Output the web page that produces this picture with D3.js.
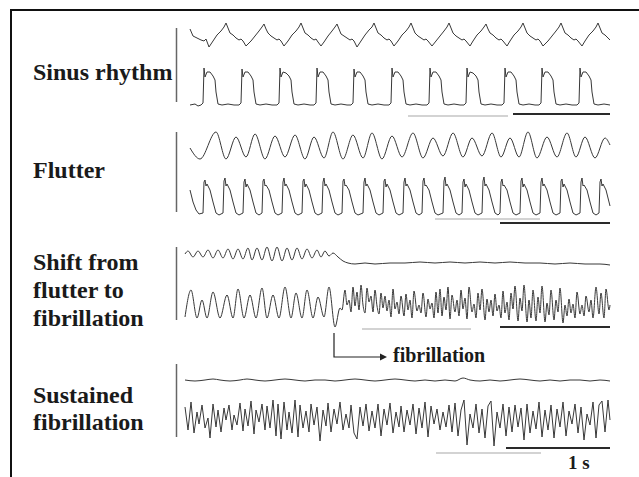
<!DOCTYPE html>
<html>
<head>
<meta charset="utf-8">
<script src="https://cdn.jsdelivr.net/npm/d3@7/dist/d3.min.js"></script>
<style>
  body { margin: 0; background: #fff; }
  text { font-family: "Liberation Serif", "Times New Roman", serif; font-weight: bold; fill: #1a1a1a; }
</style>
</head>
<body>
<svg id="fig" width="639" height="477"></svg>
<script>
// time in ms, value in arbitrary units (height above the trace floor)

// sinus rhythm, atrial signal
const sinusAtrial = [[50,19],[80,12],[120,10],[160,8],[190,7],[210,9],[240,1],
  [280,7],[320,13],[360,17],[390,21],[410,25],[430,20],[450,15],[480,13],[510,10],[540,8],[560,9],[580,7],[610,2],
  [660,7],[700,12],[740,17],[770,21],[790,24],[810,19],[830,15],[860,12],[890,10],[920,8],[940,9],[960,7],[990,2],
  [1030,7],[1070,13],[1110,17],[1140,21],[1160,25],[1180,20],[1200,15],[1230,13],[1260,10],[1290,8],[1310,9],[1330,6],[1360,2],
  [1390,6],[1430,12],[1470,17],[1500,21],[1520,24],[1540,19],[1560,14],[1590,12],[1620,10],[1650,8],[1670,9],[1690,7],[1720,1],
  [1760,7],[1800,13],[1840,18],[1870,21],[1890,25],[1910,20],[1930,15],[1960,13],[1990,10],[2020,8],[2040,9],[2060,7],[2090,2],
  [2130,7],[2170,13],[2210,17],[2240,21],[2260,25],[2280,20],[2300,15],[2330,12],[2360,10],[2390,8],[2410,9],[2430,7],[2470,2],
  [2510,7],[2550,12],[2590,17],[2620,21],[2640,25],[2660,20],[2680,15],[2710,12],[2740,10],[2770,8],[2790,9],[2810,7],[2850,2],
  [2880,7],[2920,13],[2960,17],[2990,21],[3010,24],[3030,19],[3050,15],[3080,13],[3110,10],[3140,8],[3160,9],[3180,7],[3220,2],
  [3250,7],[3290,13],[3330,17],[3360,21],[3380,25],[3400,20],[3420,15],[3450,12],[3480,10],[3510,8],[3530,9],[3550,7],[3580,2],
  [3630,7],[3670,12],[3710,17],[3740,21],[3760,25],[3780,20],[3800,15],[3830,13],[3860,10],[3890,8],[3910,9],[3930,7],[3970,2],
  [4000,7],[4040,13],[4080,17],[4110,21],[4130,25],[4150,20],[4170,15],[4200,13],[4230,10],[4250,8]];

// sinus rhythm, action potentials
const sinusAP = [[50,5],[100,6],[130,4],
  [160,5],[180,7],[190,42],[200,33],[220,38],[250,38],[280,34],[300,30],[310,18],[330,6],[370,5],[430,6],[490,5],
  [540,5],[560,7],[570,41],[580,33],[600,38],[630,38],[660,34],[680,30],[690,18],[710,6],[750,5],[810,6],[870,5],
  [920,5],[940,7],[950,42],[960,33],[980,38],[1010,37],[1040,34],[1060,30],[1070,18],[1090,6],[1130,5],[1190,6],[1250,5],
  [1290,5],[1310,7],[1320,42],[1330,33],[1350,38],[1380,38],[1410,34],[1430,30],[1440,18],[1460,6],[1500,5],[1560,6],[1620,5],
  [1660,5],[1680,7],[1690,41],[1700,33],[1720,38],[1750,38],[1780,34],[1800,30],[1810,18],[1830,6],[1870,5],[1930,6],[1990,5],
  [2040,5],[2060,7],[2070,42],[2080,33],[2100,38],[2130,38],[2160,34],[2180,30],[2190,18],[2210,6],[2250,5],[2310,6],[2370,5],
  [2420,5],[2440,7],[2450,42],[2460,33],[2480,38],[2510,38],[2540,34],[2560,30],[2570,18],[2590,6],[2630,5],[2690,6],[2750,5],
  [2790,5],[2810,7],[2820,42],[2830,33],[2850,38],[2880,37],[2910,34],[2930,30],[2940,18],[2960,6],[3000,5],[3060,6],[3120,5],
  [3170,5],[3190,7],[3200,42],[3210,33],[3230,38],[3260,38],[3290,34],[3310,30],[3320,18],[3340,6],[3380,5],[3440,6],[3500,5],
  [3540,5],[3560,7],[3570,42],[3580,33],[3600,38],[3630,38],[3660,34],[3680,30],[3690,18],[3710,6],[3750,5],[3810,6],[3870,5],
  [3920,5],[3940,7],[3950,42],[3960,33],[3980,38],[4010,38],[4040,34],[4060,30],[4070,18],[4090,6],[4130,5],[4190,6],[4250,5]];

// flutter, atrial signal
const flutterAtrial = [[50,17],[150,6],[310,33],[410,6],[510,28],[610,8],[700,31],[800,6],[900,29],[1000,8],
  [1100,30],[1200,6],[1290,28],[1390,7],[1480,33],[1580,6],[1680,30],[1780,7],[1870,32],[1970,6],
  [2070,29],[2170,8],[2280,32],[2380,7],[2480,27],[2580,9],[2680,32],[2780,8],[2870,27],[2970,9],
  [3070,32],[3160,8],[3250,27],[3340,8],[3430,33],[3520,7],[3620,28],[3720,8],[3820,32],[3910,8],
  [4000,28],[4100,7],[4200,27],[4250,20]];

// flutter, action potentials
const flutterAP = [[50,28],[80,16],[110,8],[140,4],
  [180,5],[190,36],[200,38],[210,32],[220,34],[250,28],[280,16],[310,5],[340,3],
  [380,5],[390,37],[400,40],[410,32],[420,34],[450,28],[480,16],[510,5],[540,3],
  [580,5],[590,36],[600,39],[610,31],[620,34],[650,28],[680,16],[710,5],[740,3],
  [770,5],[780,37],[790,39],[800,32],[810,33],[840,28],[870,16],[900,5],[930,3],
  [970,5],[980,36],[990,40],[1000,32],[1010,34],[1040,28],[1070,16],[1100,5],[1130,3],
  [1170,5],[1180,37],[1190,39],[1200,31],[1210,34],[1240,28],[1270,16],[1300,5],[1330,3],
  [1370,5],[1380,36],[1390,40],[1400,32],[1410,34],[1440,28],[1470,16],[1500,5],[1530,3],
  [1570,5],[1580,37],[1590,39],[1600,32],[1610,33],[1640,28],[1670,16],[1700,5],[1730,3],
  [1780,5],[1790,36],[1800,40],[1810,32],[1820,34],[1850,28],[1880,16],[1910,5],[1940,3],
  [1980,5],[1990,37],[2000,39],[2010,31],[2020,34],[2050,28],[2080,16],[2110,5],[2140,3],
  [2180,5],[2190,36],[2200,40],[2210,32],[2220,34],[2250,28],[2280,16],[2310,5],[2340,3],
  [2370,5],[2380,37],[2390,40],[2400,32],[2410,33],[2440,28],[2470,16],[2500,5],[2530,3],
  [2580,5],[2590,37],[2600,41],[2610,32],[2620,34],[2650,28],[2680,16],[2710,5],[2740,3],
  [2770,5],[2780,36],[2790,39],[2800,31],[2810,34],[2840,28],[2870,16],[2900,5],[2930,3],
  [2970,5],[2980,37],[2990,41],[3000,32],[3010,34],[3040,28],[3070,16],[3100,5],[3130,3],
  [3150,5],[3160,36],[3170,39],[3180,32],[3190,33],[3220,28],[3250,16],[3280,5],[3310,3],
  [3350,5],[3360,37],[3370,40],[3380,31],[3390,34],[3420,28],[3450,16],[3480,5],[3510,3],
  [3550,5],[3560,36],[3570,40],[3580,32],[3590,34],[3620,28],[3650,16],[3680,5],[3710,3],
  [3750,5],[3760,37],[3770,39],[3780,31],[3790,34],[3820,28],[3850,16],[3880,5],[3910,3],
  [3950,5],[3960,36],[3970,40],[3980,32],[3990,33],[4020,28],[4050,16],[4080,5],[4110,3],
  [4140,5],[4150,36],[4160,39],[4170,32],[4180,34],[4210,28],[4240,16],[4250,12]];

// shift from flutter to fibrillation, atrial signal
const shiftAtrial = [[0,16],[30,19],[80,13],[130,19],[180,13],[230,20],[280,12],[330,20],[380,12],[430,21],
  [480,11],[530,21],[580,11],[630,22],[670,10],[720,22],[770,10],[820,23],[870,9],[920,23],
  [970,9],[1020,22],[1070,10],[1120,22],[1170,11],[1220,21],[1270,12],[1320,20],[1360,13],[1400,19],
  [1440,14],[1480,17],[1530,13],[1580,9],[1630,7],[1700,6],[1800,7],[1900,6],[2050,7],[2200,7],
  [2350,8],[2500,7],[2650,8],[2800,7],[2950,8],[3100,7],[3250,8],[3400,7],[3550,7],[3700,6],
  [3850,7],[4000,6],[4150,6],[4250,5]];

// shift from flutter to fibrillation, action potentials
const shiftAP = [[0,13],[60,40],[120,12],[170,30],[220,12],[280,38],[350,12],[420,35],[480,12],[530,41],
  [590,12],[650,35],[710,12],[770,42],[820,12],[880,35],[940,12],[1000,43],[1060,12],[1110,37],
  [1170,12],[1220,40],[1280,12],[1330,33],[1390,13],[1440,43],[1500,3],[1550,22],[1570,20],
  [1600,40],[1620,25],[1640,30],[1660,18],[1680,43],[1700,24],[1720,38],[1740,20],[1760,45],[1780,25],
  [1800,17],[1820,42],[1840,28],[1860,34],[1880,18],[1900,40],[1920,24],[1940,16],[1960,37],[1980,22],
  [2000,34],[2020,19],[2040,30],[2060,13],[2080,41],[2100,21],[2120,28],[2140,16],[2160,34],[2190,14],
  [2210,36],[2230,20],[2250,30],[2270,12],[2290,39],[2320,19],[2340,25],[2360,17],[2380,37],[2410,13],
  [2430,31],[2450,21],[2470,27],[2490,12],[2510,38],[2530,17],[2550,41],[2570,14],[2590,33],[2610,20],
  [2630,43],[2650,11],[2670,35],[2700,18],[2720,30],[2740,14],[2760,40],[2780,21],[2800,32],[2820,11],
  [2840,43],[2870,18],[2890,26],[2910,12],[2930,37],[2950,20],[2970,41],[3000,10],[3020,31],[3040,18],
  [3060,30],[3080,14],[3100,36],[3120,19],[3140,25],[3160,12],[3180,39],[3200,17],[3220,28],[3240,10],
  [3260,37],[3280,21],[3300,44],[3330,9],[3350,32],[3370,19],[3390,45],[3420,8],[3440,30],[3460,12],
  [3480,40],[3510,9],[3530,33],[3550,17],[3570,44],[3600,8],[3620,27],[3640,15],[3660,40],[3690,10],
  [3710,30],[3730,18],[3750,42],[3780,7],[3800,25],[3820,14],[3840,31],[3860,17],[3880,26],[3900,12],
  [3920,38],[3950,16],[3970,25],[3990,14],[4010,34],[4040,18],[4060,30],[4080,12],[4110,43],[4140,16],
  [4160,37],[4190,12],[4210,41],[4240,20],[4250,25]];

// sustained fibrillation, atrial signal
const fibAtrial = [[0,10],[100,9],[200,10],[280,11],[350,10],[450,9],[550,10],[620,11],[700,10],[800,9],
  [900,10],[1000,11],[1100,10],[1200,9],[1300,10],[1400,10],[1500,9],[1600,10],[1700,11],[1800,10],
  [1900,9],[2000,10],[2100,11],[2200,10],[2300,9],[2400,10],[2500,9],[2600,10],[2700,9],[2780,12],
  [2850,10],[2950,9],[3050,10],[3150,9],[3250,10],[3350,11],[3450,10],[3550,9],[3650,10],[3750,9],
  [3850,10],[3950,10],[4050,9],[4150,10],[4250,9]];

// sustained fibrillation, action potentials
const fibAP = [[0,35],[30,12],[60,40],[90,9],[120,30],[140,18],[170,37],[200,14],[230,24],[250,4],
  [280,38],[310,15],[330,32],[360,10],[390,34],[410,22],[440,37],[470,12],[490,27],[520,17],
  [550,39],[580,11],[600,33],[630,16],[660,41],[690,8],[710,32],[740,20],[770,38],[800,12],
  [820,36],[850,14],[880,42],[910,6],[930,38],[960,3],[990,40],[1020,12],[1040,30],[1070,9],
  [1100,42],[1130,5],[1150,37],[1180,14],[1210,31],[1240,10],[1260,38],[1290,17],[1320,35],[1350,1],
  [1380,32],[1410,16],[1430,39],[1460,10],[1490,33],[1520,18],[1550,40],[1580,12],[1610,28],[1640,14],
  [1660,37],[1690,9],[1720,3],[1750,35],[1780,16],[1810,38],[1840,11],[1870,31],[1900,14],[1930,38],
  [1960,6],[1990,33],[2020,17],[2050,39],[2080,9],[2110,30],[2140,15],[2160,36],[2190,10],[2220,32],
  [2250,17],[2280,38],[2310,8],[2340,34],[2370,14],[2400,40],[2430,5],[2460,36],[2490,18],[2520,33],
  [2550,12],[2580,30],[2610,15],[2640,37],[2670,10],[2700,39],[2730,6],[2760,32],[2790,42],[2820,-3],
  [2850,28],[2880,14],[2910,38],[2940,9],[2970,33],[3000,4],[3030,36],[3060,41],[3090,-4],[3120,30],
  [3150,14],[3180,38],[3210,6],[3240,35],[3270,10],[3300,37],[3330,15],[3360,34],[3390,2],[3420,38],
  [3450,9],[3480,31],[3510,13],[3540,40],[3570,5],[3600,32],[3630,12],[3660,37],[3690,4],[3720,33],
  [3750,15],[3780,40],[3810,6],[3840,31],[3870,18],[3900,38],[3930,9],[3960,35],[3990,2],[4020,28],
  [4050,17],[4080,40],[4110,4],[4140,37],[4170,41],[4200,10],[4230,42],[4250,22]];

const rowLabels = [["Sinus rhythm"], ["Flutter"], ["Shift from", "flutter to", "fibrillation"], ["Sustained", "fibrillation"]];
const onsetTime = 1490;          // start of fibrillation in row 3
const scaleDark = [[3280, 4250], [3150, 4250], [3150, 4250], [3210, 4250]];
const scaleLight = [[2230, 3230], [2500, 3550], [1770, 2860], [2510, 3560]];

const svg = d3.select(`#fig`);
const x = d3.scaleLinear().domain([0, 4250]).range([185, 610]);

// frame (only top and left edges show)
svg.append(`path`)
  .attr(`d`, `M11,477V10H639`)
  .attr(`fill`, `none`)
  .attr(`stroke`, `#111`)
  .attr(`stroke-width`, 2);

const rows = [
  {bar: [28, 102], labelY: [80], scaleY: [114, 116], traces: [
    {data: sinusAtrial, floor: 48, curve: d3.curveLinear},
    {data: sinusAP, floor: 110, curve: d3.curveLinear}]},
  {bar: [132, 212], labelY: [178], scaleY: [223, 219], traces: [
    {data: flutterAtrial, floor: 165, curve: d3.curveMonotoneX},
    {data: flutterAP, floor: 218, curve: d3.curveLinear}]},
  {bar: [247, 320], labelY: [270, 298, 326], scaleY: [327, 329], traces: [
    {data: shiftAtrial, floor: 270, curve: d3.curveMonotoneX},
    {data: shiftAP, floor: 330, curve: d3.curveMonotoneX}]},
  {bar: [364, 437], labelY: [403, 430], scaleY: [448, 453], traces: [
    {data: fibAtrial, floor: 390, curve: d3.curveMonotoneX},
    {data: fibAP, floor: 442, curve: d3.curveLinear}]}
];

rows.forEach((row, i) => {
  const g = svg.append(`g`).attr(`class`, `row`);

  g.append(`line`)
    .attr(`x1`, 176.5).attr(`x2`, 176.5)
    .attr(`y1`, row.bar[0]).attr(`y2`, row.bar[1])
    .attr(`stroke`, `#666`)
    .attr(`stroke-width`, 1.5);

  rowLabels[i].forEach((t, j) => {
    g.append(`text`)
      .attr(`x`, 33)
      .attr(`y`, row.labelY[j])
      .attr(`font-size`, 24)
      .text(t);
  });

  // light grey marker bar
  g.append(`line`)
    .attr(`x1`, x(scaleLight[i][0])).attr(`x2`, x(scaleLight[i][1]))
    .attr(`y1`, row.scaleY[1]).attr(`y2`, row.scaleY[1])
    .attr(`stroke`, `#c4c4c4`)
    .attr(`stroke-width`, 1.5);

  // dark marker bar
  g.append(`line`)
    .attr(`x1`, x(scaleDark[i][0])).attr(`x2`, x(scaleDark[i][1]))
    .attr(`y1`, row.scaleY[0]).attr(`y2`, row.scaleY[0])
    .attr(`stroke`, `#2a2a2a`)
    .attr(`stroke-width`, 1.8);

  row.traces.forEach(tr => {
    const y = d3.scaleLinear().domain([0, 50]).range([tr.floor, tr.floor - 50]);
    const line = d3.line()
      .x(d => x(d[0]))
      .y(d => y(d[1]))
      .curve(tr.curve);
    g.append(`path`)
      .datum(tr.data)
      .attr(`d`, line)
      .attr(`fill`, `none`)
      .attr(`stroke`, `#383838`)
      .attr(`stroke-width`, 1);
  });
});

// arrow marking onset of fibrillation
const ax = x(onsetTime);
const axEnd = x(onsetTime + 470);
svg.append(`path`)
  .attr(`d`, `M${ax},333V357H${axEnd}`)
  .attr(`fill`, `none`)
  .attr(`stroke`, `#222`)
  .attr(`stroke-width`, 1.2);
svg.append(`path`)
  .attr(`d`, `M${axEnd - 1},353.5L${axEnd + 6},357L${axEnd - 1},360.5Z`)
  .attr(`fill`, `#222`);
svg.append(`text`)
  .attr(`x`, 393)
  .attr(`y`, 362)
  .attr(`font-size`, 20)
  .text(`fibrillation`);

svg.append(`text`)
  .attr(`x`, 568)
  .attr(`y`, 469)
  .attr(`font-size`, 19)
  .text(`1 s`);
</script>
</body>
</html>
